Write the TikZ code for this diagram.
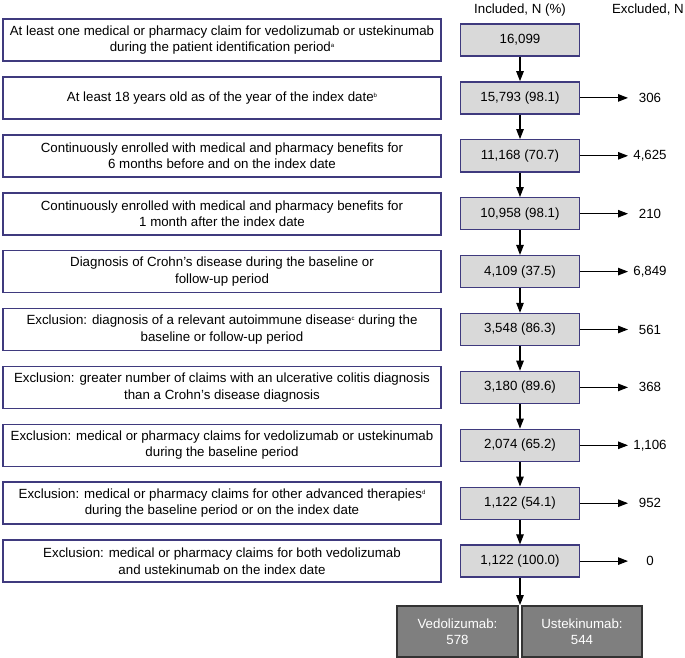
\documentclass[tikz,border=0pt]{standalone}
\usepackage{fontspec}
\setmainfont{Liberation Sans}
\usetikzlibrary{arrows.meta}
\definecolor{bord}{HTML}{3F3A7E}
\definecolor{incfill}{HTML}{D9D9D9}
\definecolor{grpfill}{HTML}{7F7F7F}
\newcommand{\fnm}[1]{\raisebox{0.6ex}{\fontsize{6}{6}\selectfont #1}}
\tikzset{
  crit/.style={draw=bord, line width=1.6pt, fill=white, minimum width=438pt, minimum height=42pt, align=center, inner sep=0pt},
  inc/.style={draw=bord, line width=1.4pt, fill=incfill, minimum width=119pt, minimum height=32pt, inner sep=0pt},
  grp/.style={draw=black!80, line width=1.2pt, fill=grpfill, text=white, minimum height=51pt, align=center, inner sep=0pt},
  lab/.style={inner sep=0pt},
  arr/.style={line width=1.1pt, -{Triangle[length=10pt,width=7.5pt]}},
}
\begin{document}
\begin{tikzpicture}[x=1pt,y=-1pt, font=\fontsize{13.3}{16.5}\selectfont]
\useasboundingbox (0,0) rectangle (685,658);
\fill[white] (0,0) rectangle (685,658);

\node[lab] (hi) at (520,10) {Included, N (\%)};
\node[lab, anchor=east] (he) at (684,10) {Excluded, N};

\node[crit] (c1) at (222,40.0) {At least one medical or pharmacy claim for vedolizumab or ustekinumab\\during the patient identification period\fnm{a}};
\node[crit] (c2) at (222,97.9) {At least 18 years old as of the year of the index date\fnm{b}};
\node[crit] (c3) at (222,155.8) {Continuously enrolled with medical and pharmacy benefits for\\6 months before and on the index date};
\node[crit] (c4) at (222,213.7) {Continuously enrolled with medical and pharmacy benefits for\\1 month after the index date};
\node[crit] (c5) at (222,271.6) {Diagnosis of Crohn’s disease during the baseline or\\follow-up period};
\node[crit] (c6) at (222,329.5) {Exclusion: diagnosis of a relevant autoimmune disease\fnm{c} during the\\baseline or follow-up period};
\node[crit] (c7) at (222,387.4) {Exclusion: greater number of claims with an ulcerative colitis diagnosis\\than a Crohn’s disease diagnosis};
\node[crit] (c8) at (222,445.3) {Exclusion: medical or pharmacy claims for vedolizumab or ustekinumab\\during the baseline period};
\node[crit] (c9) at (222,503.2) {Exclusion: medical or pharmacy claims for other advanced therapies\fnm{d}\\during the baseline period or on the index date};
\node[crit] (c10) at (222,561.1) {Exclusion: medical or pharmacy claims for both vedolizumab\\and ustekinumab on the index date};

\node[inc] (n1) at (520,40.0) {16,099};
\node[inc] (n2) at (520,97.9) {15,793 (98.1)};
\node[inc] (n3) at (520,155.8) {11,168 (70.7)};
\node[inc] (n4) at (520,213.7) {10,958 (98.1)};
\node[inc] (n5) at (520,271.6) {4,109 (37.5)};
\node[inc] (n6) at (520,329.5) {3,548 (86.3)};
\node[inc] (n7) at (520,387.4) {3,180 (89.6)};
\node[inc] (n8) at (520,445.3) {2,074 (65.2)};
\node[inc] (n9) at (520,503.2) {1,122 (54.1)};
\node[inc] (n10) at (520,561.1) {1,122 (100.0)};

\foreach \i/\v/\y in {2/306/97.9, 3/{4,625}/155.8, 4/210/213.7, 5/{6,849}/271.6, 6/561/329.5, 7/368/387.4, 8/{1,106}/445.3, 9/952/503.2, 10/0/561.1}{
  \node[lab] (e\i) at (650,\y) {\v};
  \coordinate (a\i) at (628,\y);
  \draw[arr] (n\i.east) -- (a\i);
}

\foreach \i [evaluate=\i as \j using int(\i+1)] in {1,...,9}{
  \draw[arr] (n\i.south) -- (n\j.north);
}

\node[grp, minimum width=121pt] (v) at (457.5,631.5) {Vedolizumab:\\578};
\node[grp, minimum width=120pt] (u) at (582,631.5) {Ustekinumab:\\544};
\coordinate (split) at (520,605);
\draw[arr] (n10.south) -- (split);
\end{tikzpicture}
\end{document}
